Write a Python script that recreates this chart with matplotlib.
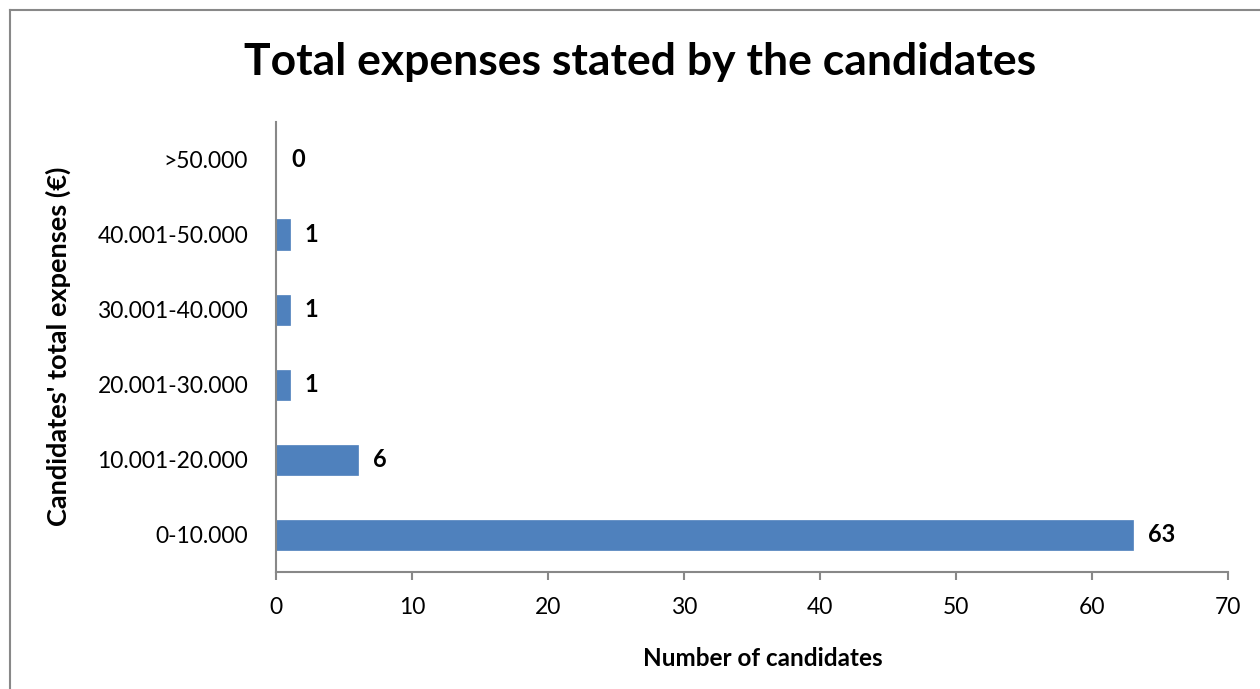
import matplotlib
matplotlib.use("Agg")
import matplotlib.pyplot as plt
from matplotlib.lines import Line2D

categories = ["0-10.000", "10.001-20.000", "20.001-30.000", "30.001-40.000", "40.001-50.000", ">50.000"]
counts = [63, 6, 1, 1, 1, 0]
xticks = [0, 10, 20, 30, 40, 50, 60, 70]

plt.rcParams['font.family'] = ['Lato', 'DejaVu Sans']

W, H = 1260, 689
fig = plt.figure(figsize=(W / 100, H / 100), dpi=100)
ax = fig.add_axes([276 / W, 1 - 572 / H, (1228 - 276) / W, (572 - 122) / H])

y = list(range(len(categories)))
ax.barh(y, counts, height=0.4, color="#4F81BD", edgecolor="#4F81BD", linewidth=0.5)
ax.set_xlim(0, 70)
ax.set_ylim(-0.5, len(categories) - 0.5)
ax.set_xticks(xticks)
ax.set_xticklabels([str(t) for t in xticks])
ax.set_yticks(y)
ax.set_yticklabels(categories)

for s in ["top", "right"]:
    ax.spines[s].set_visible(False)
for s in ["left", "bottom"]:
    ax.spines[s].set_color("#888888")
    ax.spines[s].set_linewidth(1.5)
ax.tick_params(axis="x", direction="out", length=6, width=1.5, color="#888888", labelsize=16.5, pad=12)
ax.tick_params(axis="y", length=0, labelsize=16.5, pad=20)

for yi, v in zip(y, counts):
    ax.annotate(str(v), xy=(v, yi), xytext=(11, 0), textcoords="offset points",
                ha="left", va="center", fontsize=17, fontweight="bold")

fig.text(640 / W, 1 - 62 / H, "Total expenses stated by the candidates", ha="center", va="center",
         fontsize=32, fontweight="bold")
fig.text(763 / W, 1 - 659 / H, "Number of candidates", ha="center", va="center",
         fontsize=17.5, fontweight="bold")
fig.text(58 / W, 1 - 346 / H, "Candidates' total expenses (€)", ha="center", va="center",
         rotation=90, fontsize=19.5, fontweight="bold")

# outer chart border (left and top visible)
fig.add_artist(Line2D([9.5 / W, 9.5 / W], [0, 1 - 9.5 / H], transform=fig.transFigure,
                      color="#888888", linewidth=1.5))
fig.add_artist(Line2D([9.5 / W, 1], [1 - 9.5 / H, 1 - 9.5 / H], transform=fig.transFigure,
                      color="#888888", linewidth=1.5))

fig.savefig("out.png", dpi=100)
